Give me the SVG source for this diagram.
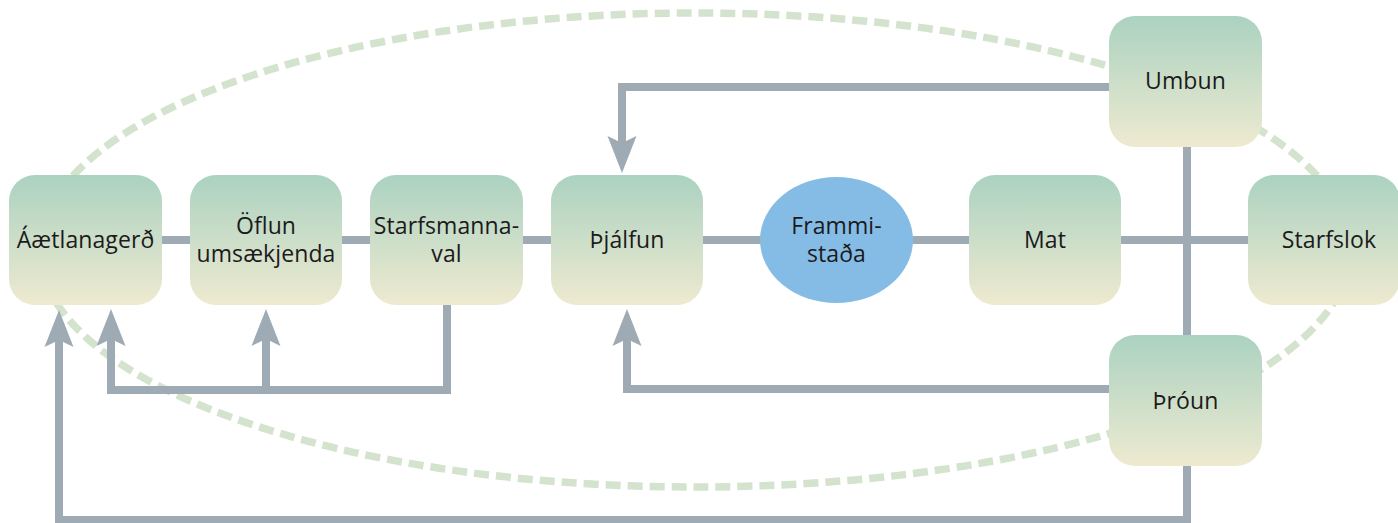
<svg xmlns="http://www.w3.org/2000/svg" width="1398" height="523" viewBox="0 0 1398 523">
  <defs>
    <linearGradient id="boxGrad" x1="0" y1="0" x2="0" y2="1">
      <stop offset="0" stop-color="#abd2c1"/>
      <stop offset="1" stop-color="#eeead0"/>
    </linearGradient>
    <marker id="arrow" viewBox="-40 -16 42 32" refX="-20" refY="0" markerWidth="42" markerHeight="32" markerUnits="userSpaceOnUse" orient="auto">
      <path d="M0,0 L-37,-14.5 L-30,0 L-37,14.5 Z" fill="#9eabb5"/>
    </marker>
  </defs>
  <style>
    .box { fill: url(#boxGrad); }
    .lbl { font-family: "Open Sans", "Noto Sans", sans-serif; font-size: 23px; fill: #1c1a1b; text-anchor: middle; letter-spacing: 0.1px; }
    .conn { fill: none; stroke: #9eabb5; stroke-width: 8; }
    .cycle { fill: none; stroke: #d4e3cd; stroke-width: 7.5; stroke-dasharray: 15 7; }
  </style>
  <rect width="1398" height="523" fill="#ffffff"/>

  <ellipse id="cycle" class="cycle" cx="695" cy="250" rx="655" ry="237"/>

  <g id="connectors">
    <path class="conn" d="M162,240 H1248"/>
    <path class="conn" d="M1187,147 V335"/>
    <path class="conn" d="M1187,466 V520 H59 V330" marker-end="url(#arrow)"/>
    <path class="conn" d="M447,305 V390 H111 V329" marker-end="url(#arrow)"/>
    <path class="conn" d="M266,390 V329" marker-end="url(#arrow)"/>
    <path class="conn" d="M1109,87 H622 V153" marker-end="url(#arrow)"/>
    <path class="conn" d="M1109,389 H627 V329" marker-end="url(#arrow)"/>
  </g>

  <g id="node-aetlanagerd">
    <rect class="box" x="9" y="175" width="153" height="130" rx="26"/>
    <text class="lbl" x="85.5" y="248">Áætlanagerð</text>
  </g>
  <g id="node-oflun">
    <rect class="box" x="190" y="175" width="152" height="130" rx="26"/>
    <text class="lbl" x="266" y="234">Öflun</text>
    <text class="lbl" x="266" y="262">umsækjenda</text>
  </g>
  <g id="node-starfsmannaval">
    <rect class="box" x="370" y="175" width="153" height="130" rx="26"/>
    <text class="lbl" x="446.5" y="234">Starfsmanna-</text>
    <text class="lbl" x="446.5" y="262">val</text>
  </g>
  <g id="node-thjalfun">
    <rect class="box" x="551" y="175" width="152" height="130" rx="26"/>
    <text class="lbl" x="627" y="248">Þjálfun</text>
  </g>
  <g id="node-frammistada">
    <ellipse cx="836.5" cy="240" rx="76.5" ry="63" fill="#85bce6"/>
    <text class="lbl" x="836.5" y="234">Frammi-</text>
    <text class="lbl" x="836.5" y="262">staða</text>
  </g>
  <g id="node-mat">
    <rect class="box" x="969" y="175" width="152" height="130" rx="26"/>
    <text class="lbl" x="1045" y="248">Mat</text>
  </g>
  <g id="node-starfslok">
    <rect class="box" x="1248" y="175" width="152" height="130" rx="26"/>
    <text class="lbl" x="1329" y="248">Starfslok</text>
  </g>
  <g id="node-umbun">
    <rect class="box" x="1109" y="16" width="153" height="131" rx="26"/>
    <text class="lbl" x="1185.5" y="89">Umbun</text>
  </g>
  <g id="node-throun">
    <rect class="box" x="1109" y="335" width="153" height="131" rx="26"/>
    <text class="lbl" x="1185.5" y="409">Þróun</text>
  </g>
</svg>
